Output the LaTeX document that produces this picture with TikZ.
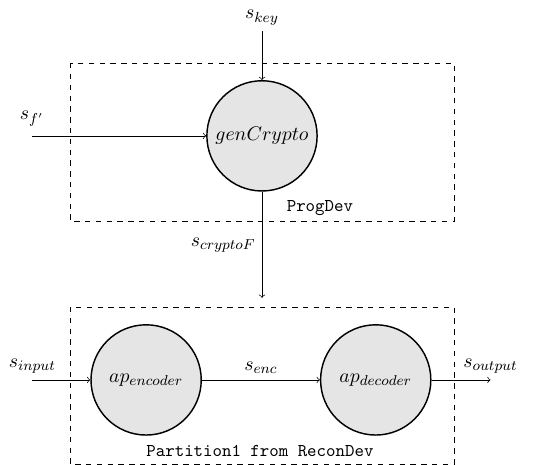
\documentclass[tikz,border=0pt]{standalone}
\usepackage{tikz}
\usetikzlibrary{positioning}
\usepackage{amsmath}

\begin{document}
\begin{tikzpicture}[
  node distance = 1cm and 2.3cm,
  every node/.style = {font=\fontsize{11}{13}\selectfont},
  proc/.style = {draw, circle, thick, fill=gray!20, minimum size=2.15cm},
  sysbox/.style = {draw, dashed},
  devlabel/.style = {font=\normalsize\ttfamily},
  arr/.style = {->}
]
\useasboundingbox (0,0) rectangle (10.63,9.05);

% Processes
\node[proc] (gen) at (5.11,6.40) {$genCrypto$};
\node[proc] (enc) at (2.85,1.64) {$ap_{encoder}$};
\node[proc, right=of enc] (dec) {$ap_{decoder}$};

% Free ends of the channels
\coordinate[above=0.95cm of gen] (key);
\coordinate[left=3.4cm of gen]   (fin);
\coordinate[below=2.07cm of gen] (cry);
\coordinate[left=1.13cm of enc]  (inp);
\coordinate[right=1.15cm of dec] (outp);

% Devices
\draw[sysbox] (1.365,7.82) rectangle (8.853,4.739);
\draw[sysbox] (1.365,3.062) rectangle (8.853,0);
\node[devlabel] (progdev) at (6.24,4.99) {ProgDev};
\node[devlabel] (recondev) at (5.07,0.25) {Partition1 from ReconDev};

% Channels
\draw[arr] (key) node[above] {$s_{key}$} -- (gen);
\draw[arr] (fin) node[above, yshift=2pt] {$s_{f'}$} -- (gen);
\draw[arr] (gen) -- node[left] {$s_{cryptoF}$} (cry);
\draw[arr] (inp) node[above] {$s_{input}$} -- (enc);
\draw[arr] (enc) -- node[above] {$s_{enc}$} (dec);
\draw[arr] (dec) -- (outp) node[above] {$s_{output}$};

\end{tikzpicture}
\end{document}
